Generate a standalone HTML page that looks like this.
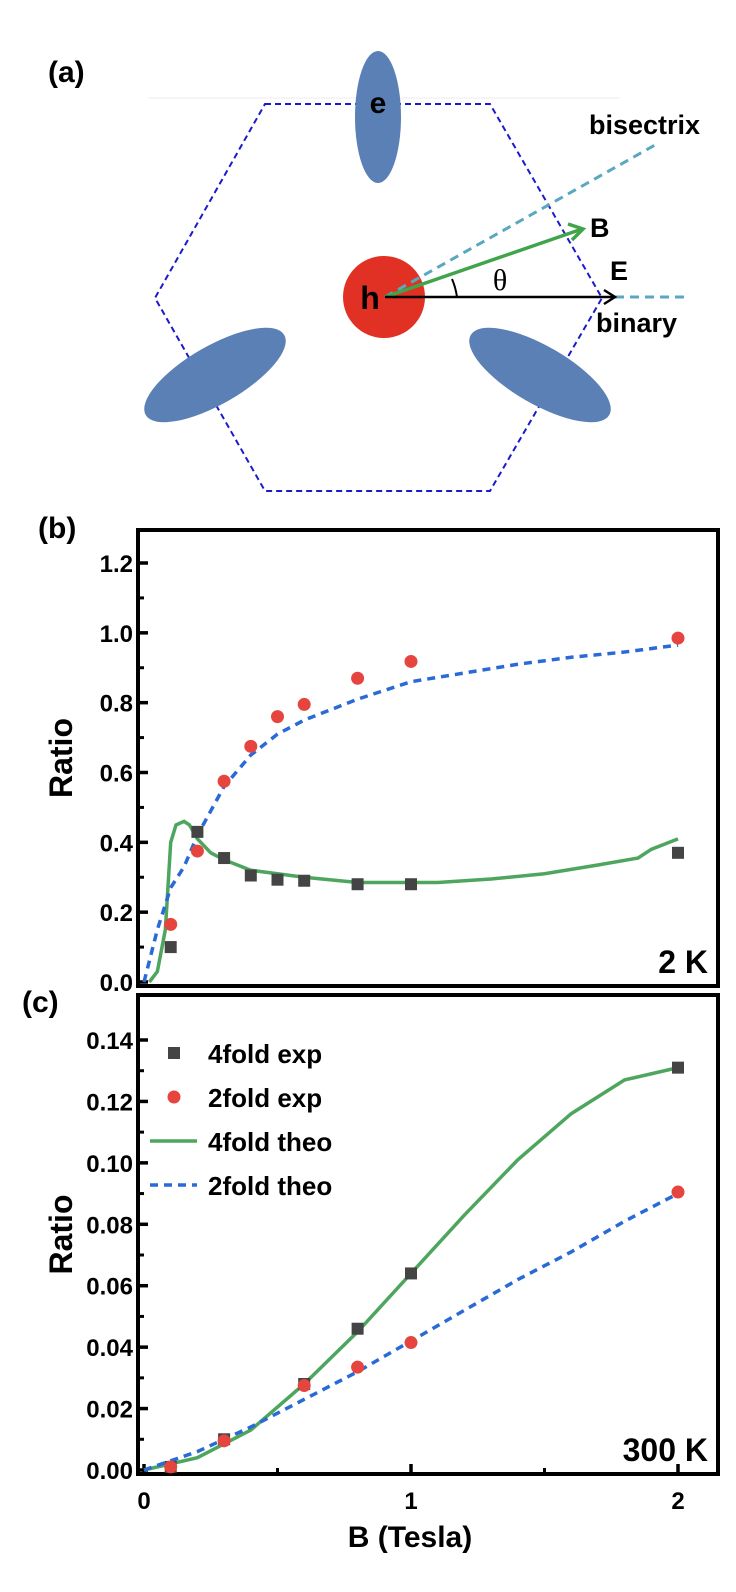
<!DOCTYPE html>
<html><head><meta charset="utf-8">
<style>
html,body{margin:0;padding:0;background:#fff;}
svg{display:block;font-family:"Liberation Sans",Arial,sans-serif;}
</style></head>
<body>
<svg id="fig" width="736" height="1592" viewBox="0 0 736 1592" xmlns="http://www.w3.org/2000/svg">
<g>
  <text x="48" y="82" font-size="30" font-weight="bold">(a)</text>
  <line x1="148" y1="98" x2="620" y2="98" stroke="#eee" stroke-width="1"/>
  <polygon points="265,104 490,104 602,298 490,491 265,491 155,298" fill="none" stroke="#1a1acc" stroke-width="2" stroke-dasharray="6,4"/>
  <ellipse cx="378" cy="117" rx="23" ry="66" fill="#5a80b6"/>
  <ellipse cx="215" cy="375" rx="80" ry="29" transform="rotate(-30 215 375)" fill="#5a80b6"/>
  <ellipse cx="540" cy="375" rx="80" ry="29" transform="rotate(30 540 375)" fill="#5a80b6"/>
  <circle cx="384" cy="297" r="41" fill="#e03124"/>
  <text x="378" y="113" font-size="30" font-weight="bold" text-anchor="middle">e</text>
  <text x="370" y="309" font-size="32" font-weight="bold" text-anchor="middle">h</text>
  <line x1="385" y1="297" x2="655" y2="145" stroke="#5aa8c0" stroke-width="3" stroke-dasharray="9,6"/>
  <line x1="615" y1="297" x2="685" y2="297" stroke="#5aa8c0" stroke-width="3" stroke-dasharray="9,6"/>
  <line x1="385" y1="297" x2="582" y2="229" stroke="#3fa44a" stroke-width="3.5"/>
  <polyline points="568,224 583,229 572,240" fill="none" stroke="#3fa44a" stroke-width="3.5"/>
  <line x1="385" y1="297" x2="614" y2="297" stroke="#000" stroke-width="2.5"/>
  <polyline points="604,290 615,297 604,304" fill="none" stroke="#000" stroke-width="2.5"/>
  <path d="M452,279 A70,70 0 0 1 457,297" fill="none" stroke="#000" stroke-width="2"/>
  <text x="500" y="290" font-size="30" font-family="Liberation Serif,serif" text-anchor="middle">θ</text>
  <text x="590" y="237" font-size="27" font-weight="bold">B</text>
  <text x="610" y="280" font-size="27" font-weight="bold">E</text>
  <text x="589" y="134" font-size="27" font-weight="bold">bisectrix</text>
  <text x="596" y="332" font-size="27" font-weight="bold">binary</text>
</g>
<g id="pb"></g>
<g id="pc"></g>
</svg>
<script>
// Panel (b) 2 K data
const b_sqX = [0.1,0.2,0.3,0.4,0.5,0.6,0.8,1,2];
const b_sqY = [0.10,0.43,0.355,0.305,0.293,0.29,0.28,0.28,0.37];
const b_ciX = [0.1,0.2,0.3,0.4,0.5,0.6,0.8,1,2];
const b_ciY = [0.165,0.375,0.575,0.675,0.76,0.795,0.87,0.918,0.985];
const b_blX = [0,0.05,0.1,0.15,0.2,0.3,0.4,0.5,0.6,0.8,1,1.2,1.4,1.6,1.8,2];
const b_blY = [0,0.15,0.27,0.33,0.42,0.56,0.65,0.71,0.75,0.81,0.86,0.885,0.91,0.93,0.945,0.965];
const b_grX = [0.02,0.05,0.08,0.1,0.12,0.15,0.17,0.2,0.25,0.3,0.4,0.5,0.6,0.8,1,1.1,1.3,1.5,1.7,1.85,1.9,2];
const b_grY = [0,0.03,0.15,0.4,0.45,0.46,0.45,0.41,0.37,0.35,0.32,0.31,0.30,0.285,0.285,0.285,0.295,0.31,0.335,0.355,0.38,0.41];
const b_ticks = [0,0.2,0.4,0.6,0.8,1.0,1.2];
const b_tickLabels = ["0.0","0.2","0.4","0.6","0.8","1.0","1.2"];
// Panel (c) 300 K data
const c_sqX = [0.1,0.3,0.6,0.8,1,2];
const c_sqY = [0.001,0.01,0.028,0.046,0.064,0.131];
const c_ciX = [0.1,0.3,0.6,0.8,1,2];
const c_ciY = [0.001,0.0095,0.0275,0.0335,0.0415,0.0905];
const c_grX = [0,0.2,0.4,0.6,0.8,1,1.2,1.4,1.6,1.8,2];
const c_grY = [0,0.004,0.013,0.028,0.045,0.064,0.083,0.101,0.116,0.127,0.131];
const c_blX = [0,0.1,0.2,0.4,0.6,0.8,1,1.2,1.4,1.6,1.8,2];
const c_blY = [0,0.003,0.006,0.014,0.023,0.032,0.042,0.052,0.062,0.071,0.081,0.09];
const c_ticks = [0,0.02,0.04,0.06,0.08,0.10,0.12,0.14];
const c_tickLabels = ["0.00","0.02","0.04","0.06","0.08","0.10","0.12","0.14"];
const xTicks = [0,1,2];
const xTickLabels = ["0","1","2"];
const legendLabels = ["4fold exp","2fold exp","4fold theo","2fold theo"];

const NS="http://www.w3.org/2000/svg";
function mk(parent,tag,attrs,text){const e=document.createElementNS(NS,tag);for(const k in attrs)e.setAttribute(k,attrs[k]);if(text!==undefined)e.textContent=text;parent.appendChild(e);return e;}
const L=138,R=718;
const xs=v=>144+v*267;

function panel(g,top,bot,y0,y1,ymax,ticks,labels,minor,sqX,sqY,ciX,ciY,grX,grY,blX,blY,tempLabel,showX){
  const ys=v=>y0+(y1-y0)*v/ymax;
  const frame=mk(g,'rect',{x:L,y:top,width:R-L,height:bot-top,fill:'none',stroke:'#000','stroke-width':4});
  
  
  ticks.forEach((t,i)=>{
    const y=ys(t);
    const tk=mk(g,'line',{x1:L,x2:L+10,y1:y,y2:y,stroke:'#000','stroke-width':3.5});
    
    
    const lb=mk(g,'text',{x:L-5,y:y+9,'font-size':24,'font-weight':'bold','text-anchor':'end'},labels[i]);
    
    
    if(i<ticks.length-1){const ym=ys(t+minor);mk(g,'line',{x1:L,x2:L+6,y1:ym,y2:ym,stroke:'#000','stroke-width':3});}
  });
  if(showX){
    [0.5,1.5].forEach(v=>mk(g,'line',{x1:xs(v),x2:xs(v),y1:bot,y2:bot-6,stroke:'#000','stroke-width':3}));
    xTicks.forEach((v,i)=>{
      mk(g,'line',{x1:xs(v),x2:xs(v),y1:bot,y2:bot-10,stroke:'#000','stroke-width':3.5});
      const xl=mk(g,'text',{x:xs(v),y:bot+35,'font-size':24,'font-weight':'bold','text-anchor':'middle'},xTickLabels[i]);
      
      
    });
  }
  const yt=mk(g,'text',{x:0,y:0,'font-size':32,'font-weight':'bold','text-anchor':'middle',transform:`translate(72 ${(top+bot)/2}) rotate(-90)`},'Ratio');
  
  
  const clip='c'+top;
  const cp=mk(g,'clipPath',{id:clip});mk(cp,'rect',{x:L+2,y:top+2,width:R-L-4,height:bot-top-4});
  const lg=mk(g,'g',{'clip-path':`url(#${clip})`});
  const gl=mk(lg,'polyline',{points:grX.map((x,i)=>xs(x)+','+ys(grY[i])).join(' '),fill:'none',stroke:'#4ea65e','stroke-width':3.5});
  
  
  const bl=mk(lg,'polyline',{points:blX.map((x,i)=>xs(x)+','+ys(blY[i])).join(' '),fill:'none',stroke:'#2a6ad6','stroke-width':3.5,'stroke-dasharray':'8,6'});
  
  
  sqX.forEach((x,i)=>{
    const s=mk(g,'rect',{x:xs(x)-6,y:ys(sqY[i])-6,width:12,height:12,fill:'#444'});
    
    
  });
  ciX.forEach((x,i)=>{
    const c=mk(g,'circle',{cx:xs(x),cy:ys(ciY[i]),r:6.5,fill:'#e5453e'});
    
    
  });
  const tl=mk(g,'text',{x:708,y:bot-13,'font-size':32,'font-weight':'bold','text-anchor':'end'},tempLabel);
  
  
}
const pb=document.getElementById('pb'), pc=document.getElementById('pc');
panel(pb,530,986,982,563,1.2,b_ticks,b_tickLabels,0.1,b_sqX,b_sqY,b_ciX,b_ciY,b_grX,b_grY,b_blX,b_blY,'2 K',false);
panel(pc,995,1474,1470,1040,0.14,c_ticks,c_tickLabels,0.01,c_sqX,c_sqY,c_ciX,c_ciY,c_grX,c_grY,c_blX,c_blY,'300 K',true);
const lb1=mk(pb,'text',{x:38,y:538,'font-size':30,'font-weight':'bold'},'(b)');


const lb2=mk(pc,'text',{x:22,y:1012,'font-size':30,'font-weight':'bold'},'(c)');


const xt=mk(pc,'text',{x:410,y:1547,'font-size':30,'font-weight':'bold','text-anchor':'middle'},'B (Tesla)');


// legend
const lgY=[1053,1097,1141,1185];
const leg=mk(pc,'g',{});


mk(leg,'rect',{x:168,y:lgY[0]-6,width:12,height:12,fill:'#444'});
mk(leg,'circle',{cx:174,cy:lgY[1],r:6.5,fill:'#e5453e'});
mk(leg,'line',{x1:150,x2:197,y1:lgY[2],y2:lgY[2],stroke:'#4ea65e','stroke-width':3.5});
mk(leg,'line',{x1:150,x2:197,y1:lgY[3],y2:lgY[3],stroke:'#2a6ad6','stroke-width':3.5,'stroke-dasharray':'8,6'});
legendLabels.forEach((t,i)=>{
  const e=mk(leg,'text',{x:208,y:lgY[i]+10,'font-size':26,'font-weight':'bold'},t);
  
  
});
</script>
</body></html>
